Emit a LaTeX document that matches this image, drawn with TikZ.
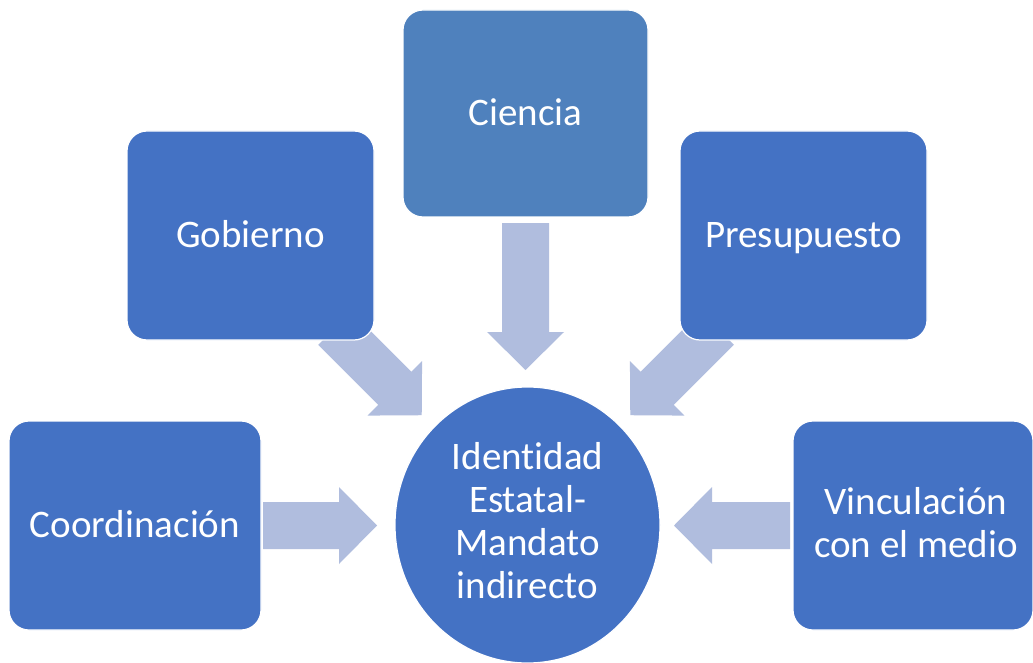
\documentclass[tikz,border=0pt]{standalone}
\usepackage{fontspec}
\setmainfont[Ligatures=NoCommon]{Carlito}
\usetikzlibrary{shapes.geometric}
\definecolor{boxblue}{HTML}{4472C4}
\definecolor{cienblue}{HTML}{4F81BD}
\definecolor{arrowc}{HTML}{B0BDDE}
\newcommand{\blkarrow}[3]{%
  \fill[arrowc, shift={(#1)}, rotate=#2]
    (0,-23.5) -- ({#3-38},-23.5) -- ({#3-38},-38.5) -- (#3,0)
    -- ({#3-38},38.5) -- ({#3-38},23.5) -- (0,23.5) -- cycle;}
\begin{document}
\begin{tikzpicture}[x=1pt,y=-1pt,
  box/.style={draw=white, line width=1.2pt, fill=boxblue, rounded corners=20pt,
    text=white, inner sep=0pt, font=\fontsize{39}{43}\selectfont,
    text height=29.25pt, text depth=5.3pt},
  multibox/.style={draw=white, line width=1.2pt, fill=boxblue, rounded corners=20pt,
    inner sep=0pt},
  lbl/.style={text=white, align=center, inner sep=0pt, font=\fontsize{39}{43}\selectfont}]
\useasboundingbox (0,0) rectangle (1033,663);
\fill[white] (0,0) rectangle (1033,663);
% tails of the block arrows
\coordinate (tcoord) at (263,525.5);
\coordinate (tvinc) at (790,525.5);
\coordinate (tcien) at (525.5,223);
\coordinate (tgob) at (334.75,328.25);
\coordinate (tpres) at (717.25,328.25);
\blkarrow{tcoord}{0}{114}
\blkarrow{tvinc}{180}{116}
\blkarrow{tcien}{-90}{147}
\blkarrow{tgob}{-45}{123}
\blkarrow{tpres}{-135}{123}
% boxes
\node[box, minimum width=247pt, minimum height=209pt] (gob) at (250.5,235.5) {Gobierno};
\node[box, fill=cienblue, minimum width=245pt, minimum height=207pt] (cien) at (525.5,113.5) {Ciencia};
\node[box, minimum width=247pt, minimum height=209pt] (pres) at (803.5,235.5) {Presupuesto};
\node[box, minimum width=252pt, minimum height=209pt] (coord) at (135,525.5) {Coordinación};
\node[multibox, minimum width=240pt, minimum height=209pt] (vinc) at (913,525.5) {};
\node[lbl] (vinctxt) at (916,523) {Vinculación\\con el medio};
% centre
\node[ellipse, draw=white, line width=1.2pt, fill=boxblue, inner sep=0pt,
  minimum width=265pt, minimum height=276pt] (id) at (527.5,525) {};
\node[lbl] (idtxt) at (527.5,520.5) {Identidad\\Estatal-\\Mandato\\indirecto};
\end{tikzpicture}
\end{document}
